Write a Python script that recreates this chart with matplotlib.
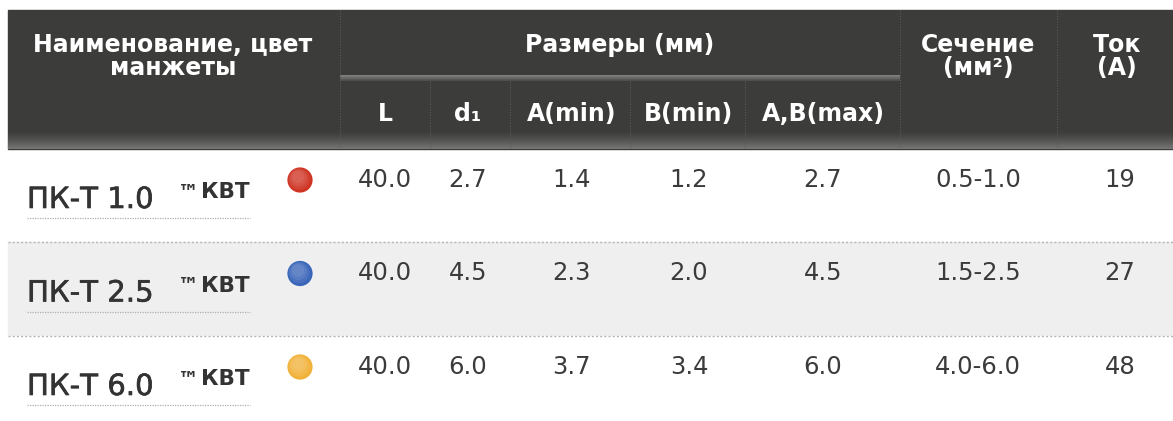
import numpy as np
import matplotlib
matplotlib.use("Agg")
import matplotlib.pyplot as plt
import matplotlib.patheffects as pe
from matplotlib.patches import Rectangle

# ---- data ----
names = ["ПК-Т 1.0", "ПК-Т 2.5", "ПК-Т 6.0"]
brand_mark = "™"
brand = "КВТ"
cuff_colors = ["#cf3524", "#3a66b9", "#f1b23a"]
L_vals = [40.0, 40.0, 40.0]
d1_vals = [2.7, 4.5, 6.0]
Amin_vals = [1.4, 2.3, 3.7]
Bmin_vals = [1.2, 2.0, 3.4]
ABmax_vals = [2.7, 4.5, 6.0]
section_vals = ["0.5-1.0", "1.5-2.5", "4.0-6.0"]
current_vals = [19, 27, 48]
sub_headers = ["L", "d₁", "A(min)", "B(min)", "A,B(max)"]

W, H = 1173, 421
fig = plt.figure(figsize=(W / 100, H / 100), dpi=100)
ax = fig.add_axes([0, 0, 1, 1])
ax.set_xlim(0, W)
ax.set_ylim(H, 0)
ax.axis("off")

hdr_top, hdr_bot = 10, 149
x0 = 8
hdr_col = "#3c3d3a"
ax.add_patch(Rectangle((x0, hdr_top), W - x0, hdr_bot - hdr_top, color=hdr_col, zorder=1))
# bottom gradient of header
grad = np.linspace(0, 1, 50).reshape(-1, 1)
c1 = np.array([0x3c, 0x3d, 0x3a]) / 255
c2 = np.array([0x76, 0x76, 0x76]) / 255
img = c1 + (c2 - c1) * grad[..., None] ** 1.3
img = np.repeat(img, 2, axis=1)
ax.imshow(img, extent=(x0, W, hdr_bot, 131), aspect="auto", zorder=2, interpolation="bilinear")
# band under "Размеры"
band = c1 + (np.array([0x84, 0x84, 0x82]) / 255 - c1) * np.linspace(1, 0.2, 20).reshape(-1, 1)[..., None]
band = np.repeat(band, 2, axis=1)
ax.imshow(band, extent=(340, 900, 81, 75), aspect="auto", zorder=2, interpolation="bilinear")

# header vertical dotted lines
for x in [340, 900, 1057]:
    ax.plot([x, x], [hdr_top, hdr_bot], color="#5a5b58", lw=0.8, ls=(0, (1, 1.5)), zorder=3)
sub_borders = [430, 510, 630, 745]
for x in sub_borders:
    ax.plot([x, x], [81, hdr_bot], color="#5a5b58", lw=0.8, ls=(0, (1, 1.5)), zorder=3)

hfont = dict(color="white", fontsize=17, fontweight="bold", ha="center", va="center", zorder=4)
ax.text(173, 45, "Наименование, цвет", **hfont)
ax.text(173, 68, "манжеты", **hfont)
ax.text(620, 45, "Размеры (мм)", **hfont)
ax.text(978, 45, "Сечение", **hfont)
ax.text(978, 68, "(мм²)", **hfont)
ax.text(1117, 45, "Ток", **hfont)
ax.text(1117, 68, "(A)", **hfont)

col_x = [385, 468, 572, 689, 823, 978, 1120]
for x, s in zip(col_x[:5], sub_headers):
    ax.text(x, 114, s, **hfont)

# rows
row_tops = [149, 242, 336]
row_bots = [242, 336, 421]
row_bg = ["white", "#efefef", "white"]
for t, b, c in zip(row_tops, row_bots, row_bg):
    ax.add_patch(Rectangle((x0, t), W - x0, b - t, color=c, zorder=0))
for y in [242, 336]:
    ax.plot([x0, W], [y, y], color="#b5b5b5", lw=1.0, ls=(0, (1.5, 1.5)), zorder=3)

txt_col = "#3b3b3b"
vfont = dict(color=txt_col, fontsize=17.5, ha="center", va="center", zorder=4)
for i in range(3):
    yc = 180 + i * 93.5
    t = ax.text(27, yc + 28, names[i], color="#333333", fontsize=21, ha="left", va="baseline", zorder=4)
    t.set_path_effects([pe.withStroke(linewidth=0.45, foreground="#333333")])
    ax.text(178, yc + 18, brand_mark, color="#333333", fontsize=15, fontweight="bold", ha="left",
            va="baseline", zorder=4)
    ax.text(201, yc + 18, brand, color="#333333", fontsize=15.5, fontweight="bold", ha="left",
            va="baseline", zorder=4)
    ax.plot([27, 250], [yc + 38, yc + 38], color="#b0b0b0", lw=0.9, ls=(0, (1, 1)), zorder=4)
    # ball with soft shading
    ax.scatter([300], [yc], s=330, color=cuff_colors[i], edgecolors="none", zorder=4)
    for k, (s, a) in enumerate([(230, 0.08), (150, 0.08), (80, 0.08)]):
        ax.scatter([299 - 0.5 * k], [yc - 1 - k], s=s, color="white", alpha=a, edgecolors="none", zorder=5)
    vals = [f"{L_vals[i]:.1f}", f"{d1_vals[i]:.1f}", f"{Amin_vals[i]:.1f}", f"{Bmin_vals[i]:.1f}",
            f"{ABmax_vals[i]:.1f}", section_vals[i], f"{current_vals[i]}"]
    for x, s in zip(col_x, vals):
        ax.text(x, yc, s, **vfont)

fig.savefig("out.png", dpi=100)
